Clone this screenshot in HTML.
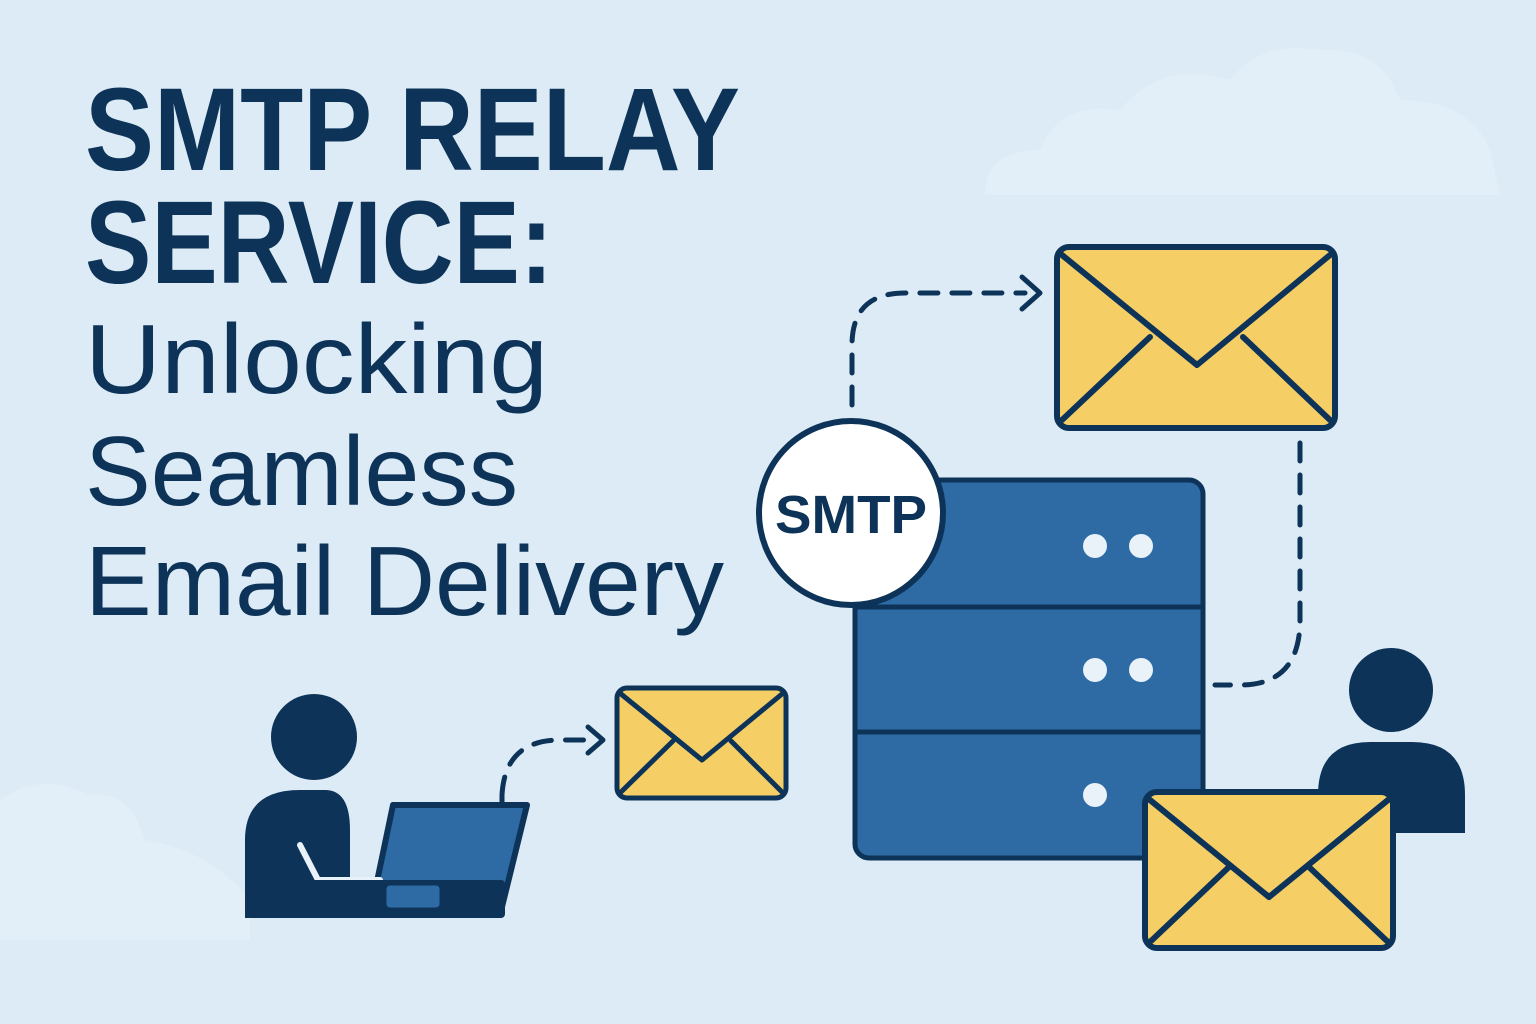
<!DOCTYPE html>
<html><head><meta charset="utf-8"><style>
html,body{margin:0;padding:0;background:#dcebf6;}
svg{display:block}
</style></head><body>
<svg width="1536" height="1024" viewBox="0 0 1536 1024" xmlns="http://www.w3.org/2000/svg">
<rect width="1536" height="1024" fill="#dcebf6"/>
<g fill="#e2eef8">
<path d="M985 195 Q985 150 1040 150 Q1060 100 1120 110 Q1160 60 1230 80 Q1260 40 1320 50 Q1380 45 1400 100 Q1470 100 1490 150 Q1500 195 1500 195 Z"/>
<path d="M0 940 L0 800 Q40 770 90 795 Q130 790 145 840 Q210 850 250 900 L250 940 Z"/>
</g>
<g font-family="'Liberation Sans',sans-serif" fill="#0d3458">
<text x="85" y="170" font-size="118" font-weight="bold" textLength="655" lengthAdjust="spacingAndGlyphs">SMTP RELAY</text>
<text x="85" y="283" font-size="118" font-weight="bold" textLength="468" lengthAdjust="spacingAndGlyphs">SERVICE:</text>
<text x="85" y="393" font-size="98" textLength="463" lengthAdjust="spacingAndGlyphs">Unlocking</text>
<text x="85" y="505" font-size="98" textLength="433" lengthAdjust="spacingAndGlyphs">Seamless</text>
<text x="85" y="615" font-size="98" textLength="639" lengthAdjust="spacingAndGlyphs">Email Delivery</text>
</g>
<g fill="none" stroke="#0d3458" stroke-width="5" stroke-linecap="round" stroke-dasharray="18 14">
<path d="M852 405 L852 345 Q852 293 905 293 L1025 293"/>
<path d="M1300 443 L1300 620 Q1300 685 1240 685 L1215 685"/>
<path d="M502 795 Q505 740 560 740 L590 740"/>
</g>
<g fill="none" stroke="#0d3458" stroke-width="5" stroke-linecap="round" stroke-linejoin="round">
<path d="M1022 277 L1040 293 L1022 309"/>
<path d="M588 727 L603 740 L588 753"/>
</g>
<rect x="855" y="480" width="348" height="378" rx="14" fill="#2e6aa3" stroke="#0d3458" stroke-width="5"/>
<line x1="855" y1="607" x2="1203" y2="607" stroke="#0d3458" stroke-width="5"/>
<line x1="855" y1="732" x2="1203" y2="732" stroke="#0d3458" stroke-width="5"/>
<g fill="#eaf2f9">
<circle cx="1095" cy="546" r="12"/><circle cx="1141" cy="546" r="12"/>
<circle cx="1095" cy="670" r="12"/><circle cx="1141" cy="670" r="12"/>
<circle cx="1095" cy="795" r="12"/>
</g>
<circle cx="851" cy="513" r="92" fill="#fff" stroke="#0d3458" stroke-width="6"/>
<text x="851" y="533" font-family="'Liberation Sans',sans-serif" font-weight="bold" font-size="54" fill="#0d3458" text-anchor="middle" textLength="152" lengthAdjust="spacingAndGlyphs">SMTP</text>
<g stroke="#0d3458" stroke-width="6" stroke-linejoin="round" stroke-linecap="round">
<rect x="1057" y="247" width="278" height="181" rx="12" fill="#f5cf66"/>
<path d="M1062 255 L1197 365 L1330 255 M1062 420 L1150 337 M1330 420 L1243 337" fill="none"/>
<rect x="617" y="688" width="169" height="110" rx="10" fill="#f5cf66" stroke-width="5"/>
<path d="M621 694 L702 760 L782 694 M621 792 L673 741 M782 792 L731 741" fill="none" stroke-width="5"/>
</g>
<circle cx="1391" cy="690" r="42" fill="#0d3458"/>
<path d="M1318 833 L1318 795 Q1318 742 1370 742 L1412 742 Q1465 742 1465 795 L1465 833 Z" fill="#0d3458"/>
<g stroke="#0d3458" stroke-width="6" stroke-linejoin="round" stroke-linecap="round">
<rect x="1145" y="792" width="248" height="156" rx="12" fill="#f5cf66"/>
<path d="M1150 800 L1269 897 L1388 800 M1150 942 L1229 867 M1388 942 L1309 867" fill="none"/>
</g>
<circle cx="314" cy="737" r="43" fill="#0d3458"/>
<path d="M245 918 L245 840 Q245 790 300 790 L325 790 Q350 790 350 830 L350 918 Z" fill="#0d3458"/>
<path d="M393 805 L527 805 L500 915 L370 915 Z" fill="#2e6aa3" stroke="#0d3458" stroke-width="6" stroke-linejoin="round"/>
<line x1="502" y1="795" x2="502" y2="806" stroke="#0d3458" stroke-width="5"/>
<path d="M300 845 L318 880 L380 880" fill="none" stroke="#eaf2f9" stroke-width="6" stroke-linecap="round"/>
<rect x="245" y="880" width="260" height="38" rx="4" fill="#0d3458"/>
<rect x="384" y="883" width="58" height="27" rx="6" fill="#2e6aa3" stroke="#0d3458" stroke-width="5"/>
</svg>
</body></html>
